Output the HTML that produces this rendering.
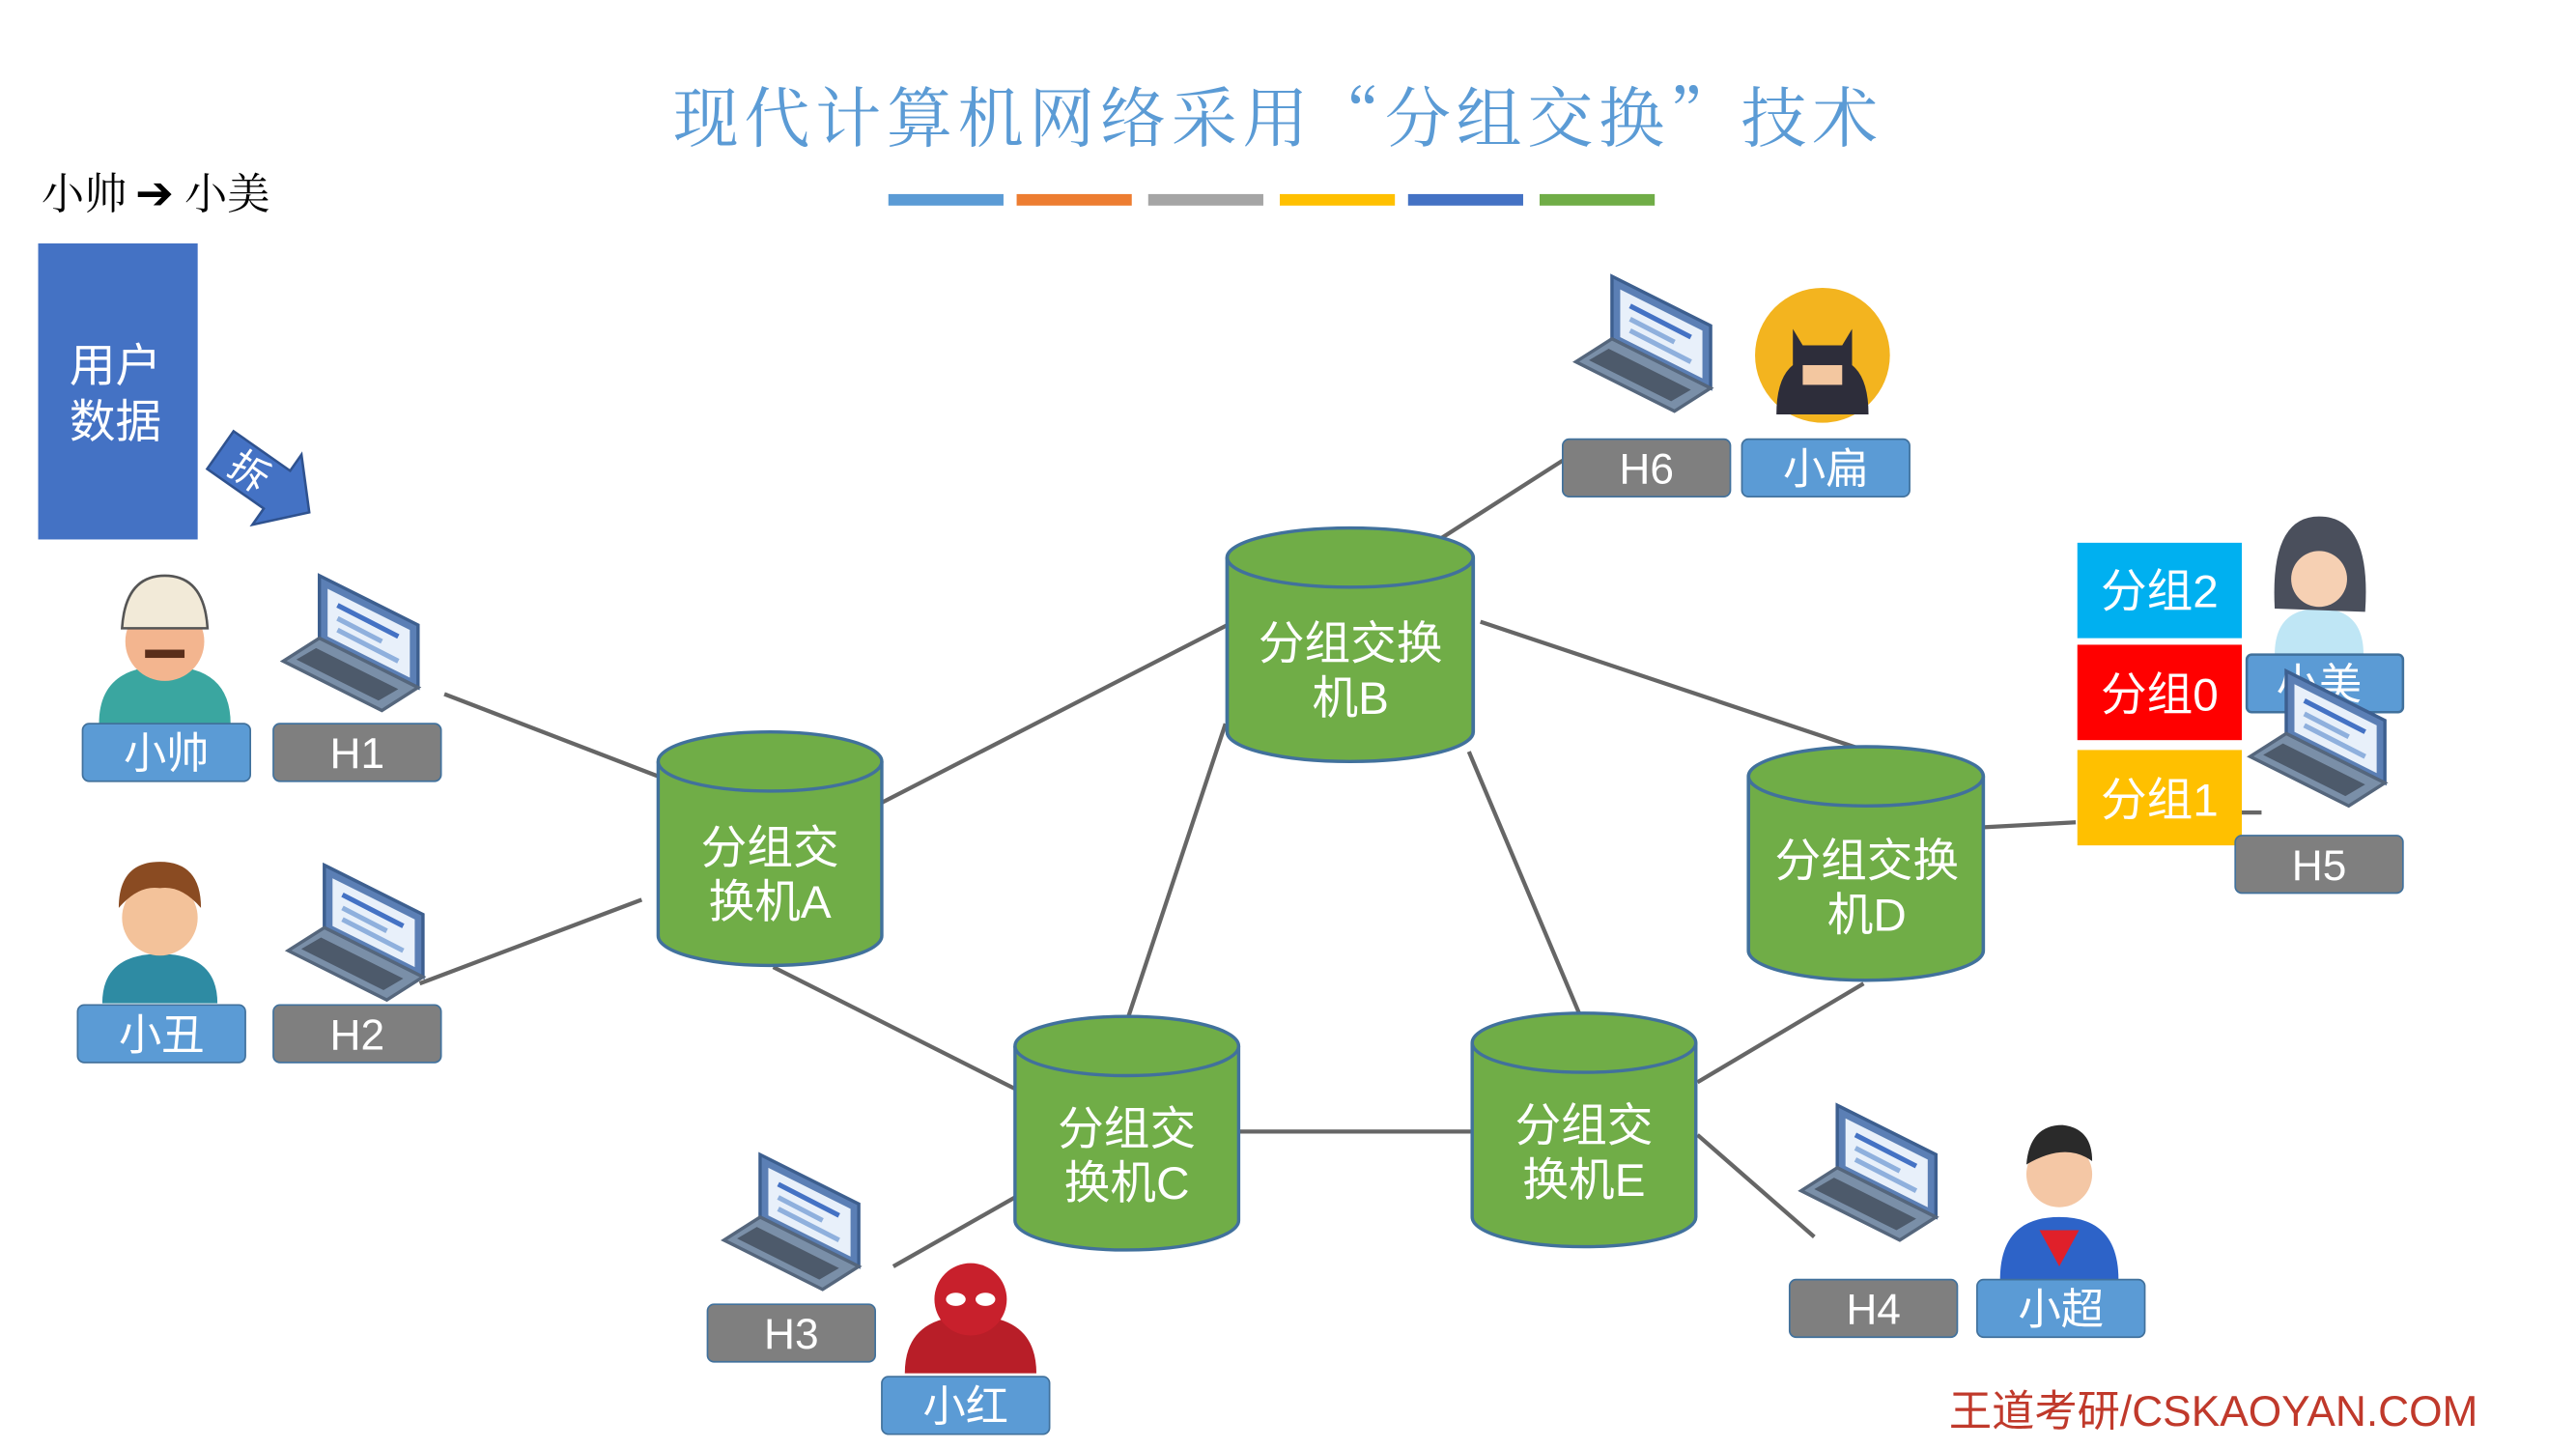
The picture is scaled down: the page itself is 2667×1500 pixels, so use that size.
<!DOCTYPE html>
<html><head><meta charset="utf-8"><style>
html,body{margin:0;padding:0;background:#fff;}
svg{display:block;}
text{font-family:"Liberation Sans","Noto Sans CJK SC",sans-serif;}
</style></head><body>
<svg width="2667" height="1500" viewBox="0 0 1566 881" xmlns="http://www.w3.org/2000/svg">
<defs>
<g id="lap">
  <polygon points="22,0 82,30 82,68 22,38" fill="#5b7fb5" stroke="#3d5f8f" stroke-width="2"/>
  <polygon points="27,8 77,33 77,62 27,37" fill="#e8f0fa"/>
  <line x1="33" y1="18" x2="70" y2="37" stroke="#4472c4" stroke-width="3"/>
  <line x1="33" y1="26" x2="60" y2="40" stroke="#8fb0dd" stroke-width="3"/>
  <line x1="33" y1="33" x2="70" y2="52" stroke="#8fb0dd" stroke-width="3"/>
  <polygon points="22,38 82,68 60,82 0,52" fill="#7a8fa8" stroke="#55667c" stroke-width="2"/>
  <polygon points="20,44 70,69 58,76 8,51" fill="#4d5a6b"/>
</g>
<g id="cyl">
  <path d="M0,18 L0,124 A68,18 0 0 0 136,124 L136,18" fill="#70ad47" stroke="#41719c" stroke-width="2"/>
  <ellipse cx="68" cy="18" rx="68" ry="18" fill="#70ad47" stroke="#41719c" stroke-width="2"/>
</g>
</defs>

<text x="777" y="86" font-size="40" fill="#5b9bd5" text-anchor="middle" letter-spacing="3.3" style="font-family:'Noto Serif CJK SC','Noto Sans CJK SC',serif">现代计算机网络采用“分组交换”技术</text>
<rect x="540" y="118" width="70" height="7" fill="#5b9bd5"/>
<rect x="618" y="118" width="70" height="7" fill="#ed7d31"/>
<rect x="698" y="118" width="70" height="7" fill="#a5a5a5"/>
<rect x="778" y="118" width="70" height="7" fill="#ffc000"/>
<rect x="856" y="118" width="70" height="7" fill="#4472c4"/>
<rect x="936" y="118" width="70" height="7" fill="#70ad47"/>

<text x="25" y="127" font-size="26" fill="#000" style="font-family:'Noto Serif CJK SC',serif">小帅</text>
<text x="82" y="127" font-size="28" font-weight="bold" fill="#000" style="font-family:'DejaVu Sans',sans-serif">➔</text>
<text x="112" y="127" font-size="26" fill="#000" style="font-family:'Noto Serif CJK SC',serif">小美</text>
<rect x="23" y="148" width="97" height="180" fill="#4472c4"/>
<text x="70" y="232" font-size="28" fill="#fff" text-anchor="middle">用户</text>
<text x="70" y="266" font-size="28" fill="#fff" text-anchor="middle">数据</text>
<g transform="translate(160,292) rotate(35)">
  <polygon points="-32,-14 10,-14 10,-26 34,0 10,26 10,14 -32,14" fill="#4472c4" stroke="#2f528f" stroke-width="1.5"/>
  <text x="-10" y="9" font-size="24" fill="#fff" text-anchor="middle">拆</text>
</g>

<g stroke="#666" stroke-width="2.5" fill="none">
<line x1="270" y1="422" x2="400" y2="472"/>
<line x1="255" y1="598" x2="390" y2="547"/>
<line x1="536" y1="488" x2="752" y2="377"/>
<line x1="470" y1="588" x2="617" y2="662"/>
<line x1="745" y1="440" x2="686" y2="618"/>
<line x1="900" y1="378" x2="1130" y2="455"/>
<line x1="893" y1="457" x2="960" y2="616"/>
<line x1="752" y1="688" x2="895" y2="688"/>
<line x1="1133" y1="598" x2="1032" y2="658"/>
<line x1="1032" y1="690" x2="1103" y2="752"/>
<line x1="543" y1="770" x2="617" y2="728"/>
<line x1="875" y1="328" x2="950" y2="280"/>
<line x1="1206" y1="503" x2="1262" y2="500"/>
<line x1="1363" y1="494" x2="1375" y2="494"/>
</g>

<use href="#cyl" x="400" y="445"/>
<text x="468" y="525" font-size="28" fill="#fff" text-anchor="middle">分组交</text>
<text x="468" y="558" font-size="28" fill="#fff" text-anchor="middle">换机A</text>
<use href="#cyl" x="746" y="321" transform="translate(746,321) scale(1.1,1) translate(-746,-321)"/>
<text x="821" y="401" font-size="28" fill="#fff" text-anchor="middle">分组交换</text>
<text x="821" y="434" font-size="28" fill="#fff" text-anchor="middle">机B</text>
<use href="#cyl" x="1063" y="454" transform="translate(1063,454) scale(1.05,1) translate(-1063,-454)"/>
<text x="1135" y="533" font-size="28" fill="#fff" text-anchor="middle">分组交换</text>
<text x="1135" y="566" font-size="28" fill="#fff" text-anchor="middle">机D</text>
<use href="#cyl" x="617" y="618"/>
<text x="685" y="696" font-size="28" fill="#fff" text-anchor="middle">分组交</text>
<text x="685" y="729" font-size="28" fill="#fff" text-anchor="middle">换机C</text>
<use href="#cyl" x="895" y="616"/>
<text x="963" y="694" font-size="28" fill="#fff" text-anchor="middle">分组交</text>
<text x="963" y="727" font-size="28" fill="#fff" text-anchor="middle">换机E</text>

<use href="#lap" x="172" y="350"/>
<use href="#lap" x="175" y="526"/>
<use href="#lap" x="440" y="702"/>
<use href="#lap" x="1095" y="672"/>
<use href="#lap" x="958" y="168"/>

<g>
<path d="M60,440 Q60,405 100,405 Q140,405 140,440Z" fill="#3aa6a0"/>
<circle cx="100" cy="390" r="24" fill="#f3b58f"/>
<path d="M74,382 Q76,350 100,350 Q124,350 126,382Z" fill="#f2ead8" stroke="#555" stroke-width="1.5"/>
<rect x="88" y="395" width="24" height="5" fill="#5a2e1a"/>
</g>
<g>
<path d="M62,610 Q62,580 97,580 Q132,580 132,610Z" fill="#2e8ba3"/>
<circle cx="97" cy="558" r="23" fill="#f3c29a"/>
<path d="M72,552 Q72,524 97,524 Q122,524 122,552 Q110,538 97,540 Q84,538 72,552Z" fill="#8a4b22"/>
</g>
<g>
<path d="M550,835 Q550,800 590,800 Q630,800 630,835Z" fill="#b81e28"/>
<circle cx="590" cy="790" r="22" fill="#c8202c"/>
<ellipse cx="581" cy="790" rx="6" ry="4" fill="#fff"/><ellipse cx="599" cy="790" rx="6" ry="4" fill="#fff"/>
</g>
<g>
<path d="M1216,778 Q1216,740 1252,740 Q1288,740 1288,778Z" fill="#2d63c8"/>
<polygon points="1240,748 1264,748 1252,770" fill="#e0202a"/>
<circle cx="1252" cy="714" r="20" fill="#f4c7a5"/>
<path d="M1232,708 Q1234,684 1254,684 Q1272,686 1272,706 Q1256,694 1232,708Z" fill="#2a2a2a"/>
</g>
<g>
<circle cx="1108" cy="216" r="41" fill="#f3b41f"/>
<path d="M1080,252 Q1080,230 1090,222 L1090,200 L1096,210 L1120,210 L1126,200 L1126,222 Q1136,230 1136,252Z" fill="#2d2d3a"/>
<rect x="1096" y="222" width="24" height="12" fill="#f3c7a0"/>
</g>
<g>
<path d="M1383,398 Q1383,370 1410,370 Q1437,370 1437,398Z" fill="#bfe6f5"/>
<path d="M1383,370 Q1380,314 1410,314 Q1442,314 1438,372 Z" fill="#4a4f5c"/>
<circle cx="1410" cy="352" r="17" fill="#f6d0b3"/>
</g>

<rect x="1263" y="330" width="100" height="58" fill="#00b0f0"/>
<text x="1313" y="369" font-size="28" fill="#fff" text-anchor="middle">分组2</text>
<rect x="1366" y="398" width="95" height="35" fill="#5b9bd5" stroke="#41719c" stroke-width="1.5" rx="3"/>
<text x="1410" y="425" font-size="26" fill="#fff" text-anchor="middle">小美</text>
<rect x="1263" y="392" width="100" height="58" fill="#ff0000"/>
<text x="1313" y="432" font-size="28" fill="#fff" text-anchor="middle">分组0</text>
<use href="#lap" x="1368" y="408"/>
<rect x="1263" y="456" width="100" height="58" fill="#ffc000"/>
<text x="1313" y="496" font-size="28" fill="#fff" text-anchor="middle">分组1</text>

<g font-size="26" text-anchor="middle" fill="#fff">
<rect x="50" y="440" width="102" height="35" rx="4" fill="#5b9bd5" stroke="#41719c"/><text x="101" y="467" fill="#fff">小帅</text>
<rect x="166" y="440" width="102" height="35" rx="4" fill="#7f7f7f" stroke="#41719c"/><text x="217" y="467" fill="#fff">H1</text>
<rect x="47" y="611" width="102" height="35" rx="4" fill="#5b9bd5" stroke="#41719c"/><text x="98" y="638" fill="#fff">小丑</text>
<rect x="166" y="611" width="102" height="35" rx="4" fill="#7f7f7f" stroke="#41719c"/><text x="217" y="638" fill="#fff">H2</text>
<rect x="430" y="793" width="102" height="35" rx="4" fill="#7f7f7f" stroke="#41719c"/><text x="481" y="820" fill="#fff">H3</text>
<rect x="536" y="837" width="102" height="35" rx="4" fill="#5b9bd5" stroke="#41719c"/><text x="587" y="864" fill="#fff">小红</text>
<rect x="1088" y="778" width="102" height="35" rx="4" fill="#7f7f7f" stroke="#41719c"/><text x="1139" y="805" fill="#fff">H4</text>
<rect x="1202" y="778" width="102" height="35" rx="4" fill="#5b9bd5" stroke="#41719c"/><text x="1253" y="805" fill="#fff">小超</text>
<rect x="950" y="267" width="102" height="35" rx="4" fill="#7f7f7f" stroke="#41719c"/><text x="1001" y="294" fill="#fff">H6</text>
<rect x="1059" y="267" width="102" height="35" rx="4" fill="#5b9bd5" stroke="#41719c"/><text x="1110" y="294" fill="#fff">小扁</text>
<rect x="1359" y="508" width="102" height="35" rx="4" fill="#7f7f7f" stroke="#41719c"/><text x="1410" y="535" fill="#fff">H5</text>
</g>

<text x="1185" y="867" font-size="26" fill="#c0392b">王道考研/CSKAOYAN.COM</text>
</svg>
</body></html>
